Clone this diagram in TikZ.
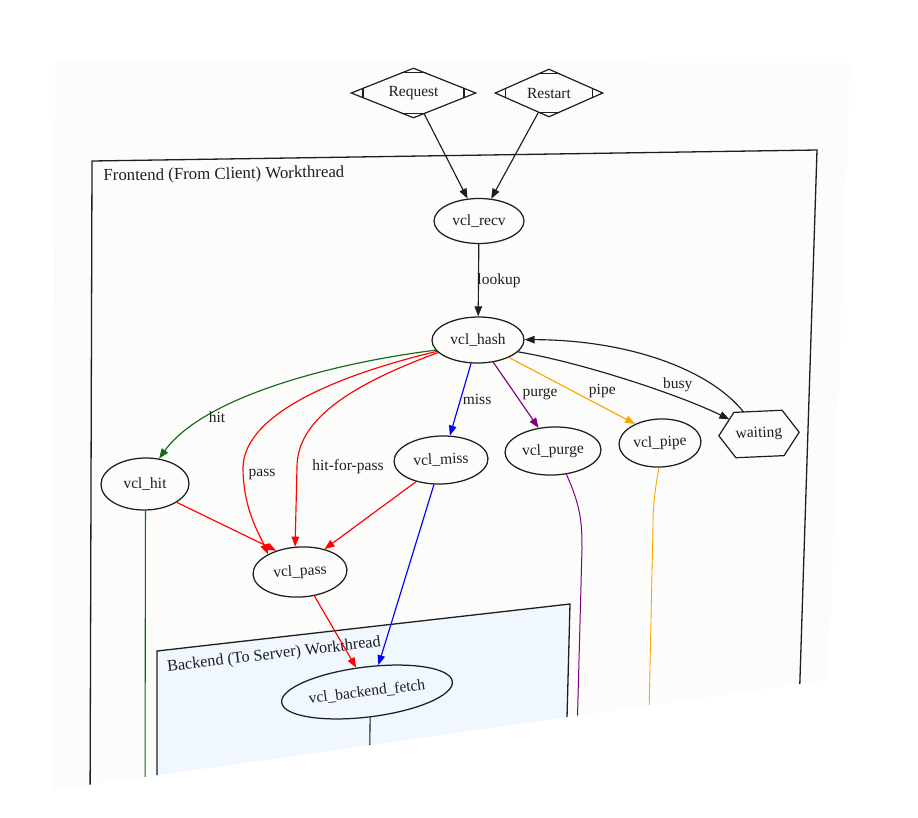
\documentclass[tikz,border=0pt]{standalone}
\usepackage{fontspec}
\setmainfont{Liberation Serif}
\usetikzlibrary{shapes.geometric,arrows.meta,calc}
\definecolor{paper}{RGB}{252,252,250}
\definecolor{bfill}{RGB}{240,247,255}
\definecolor{vgreen}{RGB}{20,105,20}
\definecolor{vpurple}{RGB}{128,0,128}
\definecolor{vorange}{RGB}{255,165,0}
\definecolor{ink}{RGB}{30,30,30}
\begin{document}
\begin{tikzpicture}[x=1pt,y=-1pt,
  every node/.style={font=\fontsize{15.5}{18}\selectfont, text=ink},
  vnode/.style={ellipse, draw=ink, line width=1.25pt, inner sep=0pt},
  mdia/.style={diamond, draw=ink, line width=1.2pt, aspect=2.5, inner sep=0pt},
  edge/.style={line width=1.15pt, -{Triangle[length=10pt,width=7.5pt]}},
  lab/.style={inner sep=1pt},
  boxline/.style={draw=ink, line width=1.3pt},
  title/.style={font=\fontsize{16.8}{19}\selectfont}
]
\useasboundingbox (0,0) rectangle (918,817);
\fill[white] (0,0) rectangle (918,817);
\begin{scope}
\clip (55,62) -- (850,63) -- (828,680) -- (52,790) -- cycle;
\fill[paper] (0,0) rectangle (918,817);
% clusters
\draw[boxline] (90,820) -- (92,161) -- (817,150) -- (798,740);
\filldraw[boxline, fill=bfill] (157,820) -- (157,651) -- (570,604) -- (564.3,820);
\node[title, anchor=west, rotate=0.9] (ftitle) at (100,177) {Frontend (From Client) Workthread};
\node[title, font=\fontsize{16.2}{19}\selectfont, rotate=6.7] (btitle) at (274,655) {Backend (To Server) Workthread};
% nodes
\node[mdia, minimum width=125pt, minimum height=50pt] (req) at (413.5,93) {Request};
\node[mdia, minimum width=108pt, minimum height=48pt] (rst) at (549,93) {Restart};
\foreach \n in {req,rst}{
  \draw[ink, line width=1.1pt] ($(\n.west)!0.2!(\n.north)$) -- ($(\n.west)!0.2!(\n.south)$);
  \draw[ink, line width=1.1pt] ($(\n.east)!0.2!(\n.north)$) -- ($(\n.east)!0.2!(\n.south)$);
  \draw[ink, line width=1.1pt] ($(\n.north)!0.2!(\n.west)$) -- ($(\n.north)!0.2!(\n.east)$);
  \draw[ink, line width=1.1pt] ($(\n.south)!0.2!(\n.west)$) -- ($(\n.south)!0.2!(\n.east)$);
}
\node[vnode, minimum width=90pt, minimum height=45pt] (recv) at (479,221) {vcl\_recv};
\node[vnode, minimum width=92pt, minimum height=46pt, rotate=0.5] (hash) at (478,340) {vcl\_hash};
\node[vnode, minimum width=88pt, minimum height=52pt, rotate=1] (hit) at (145,484) {vcl\_hit};
\node[vnode, minimum width=94pt, minimum height=48pt, rotate=2] (miss) at (441,460) {vcl\_miss};
\node[vnode, minimum width=96pt, minimum height=48pt, rotate=2] (purge) at (553,451) {vcl\_purge};
\node[vnode, minimum width=82pt, minimum height=48pt, rotate=2.5] (pipe) at (660,443) {vcl\_pipe};
\node[vnode, minimum width=94pt, minimum height=50pt, rotate=3] (pass) at (300,572) {vcl\_pass};
\node[vnode, minimum width=172pt, minimum height=50pt, rotate=7] (fetch) at (367,692) {vcl\_backend\_fetch};
\node[minimum width=80pt, minimum height=45pt, inner sep=0pt, rotate=2.5] (wait) at (759,434) {waiting};
\coordinate (wW) at (wait.west);
\coordinate (wUL) at ($(wait.north west)!0.2!(wait.north east)$);
\coordinate (wUR) at ($(wait.north west)!0.8!(wait.north east)$);
\coordinate (wLR) at ($(wait.south west)!0.8!(wait.south east)$);
\coordinate (wLL) at ($(wait.south west)!0.2!(wait.south east)$);
\draw[ink, line width=1.2pt] (wW) -- (wUL) -- (wUR) -- (wait.east) -- (wLR) -- (wLL) -- cycle;
% edges
\draw[edge, ink] (req) -- (recv);
\draw[edge, ink] (rst) -- (recv);
\draw[edge, ink] (recv) -- node[lab, xshift=20.5pt, yshift=-1pt] {lookup} (hash);
\draw[edge, vgreen] (hash.193) .. controls (340,362) and (205,395) .. node[lab, pos=0.7, xshift=-4pt, yshift=-7.5pt] {hit} (hit.60);
\draw[edge, red] (hash.195) .. controls (350,372) and (245,410) .. (243,467) node[lab, xshift=19pt, yshift=-7pt] {pass} .. controls (243,510) and (260,535) .. (pass.148);
\draw[edge, red] (hash.197) .. controls (350,385) and (297,420) .. (297,467) node[lab, xshift=51pt] {hit-for-pass} -- (pass.98);
\draw[edge, blue] (hash.253) -- node[lab, pos=0.5, xshift=16.6pt] {miss} (miss.68);
\draw[edge, vpurple] (hash.-56) -- node[lab, pos=0.45, xshift=26.4pt, yshift=-2.6pt] {purge} (purge.120);
\draw[edge, vorange] (hash.-30) -- node[lab, pos=0.74, yshift=16pt] {pipe} (pipe.140.5);
\draw[edge, ink] (hash.-17) .. controls (580,362) and (680,395) .. node[lab, pos=0.7, xshift=4pt, yshift=11pt] {busy} ($(wW)!0.7!(wUL)$);
\draw[edge, ink] ($(wUL)!0.2!(wUR)$) .. controls (710,370) and (630,340) .. (hash.east);
\draw[edge, red] (hit.-31) -- (pass.135);
\draw[edge, red] (miss.219) -- (pass.40);
\draw[edge, blue] (miss.252) -- (fetch.60);
\draw[edge, red] (pass.-62) -- (fetch.107);
% continuing lines
\coordinate (gdown) at (145,810);
\coordinate (pdown) at (575,810);
\coordinate (odown) at (647,810);
\coordinate (fdown) at (369,810);
\draw[vgreen, line width=1.1pt] (hit.south) -- (gdown);
\draw[vpurple, line width=1pt] (purge.-62) .. controls (580,505) and (582,520) .. (582,548) -- (pdown);
\draw[vorange, line width=0.9pt] (pipe.-95) .. controls (655,490) and (653,505) .. (653,525) -- (odown);
\draw[ink, line width=1.1pt] (fetch.south) -- (fdown);
\end{scope}
\end{tikzpicture}
\end{document}
